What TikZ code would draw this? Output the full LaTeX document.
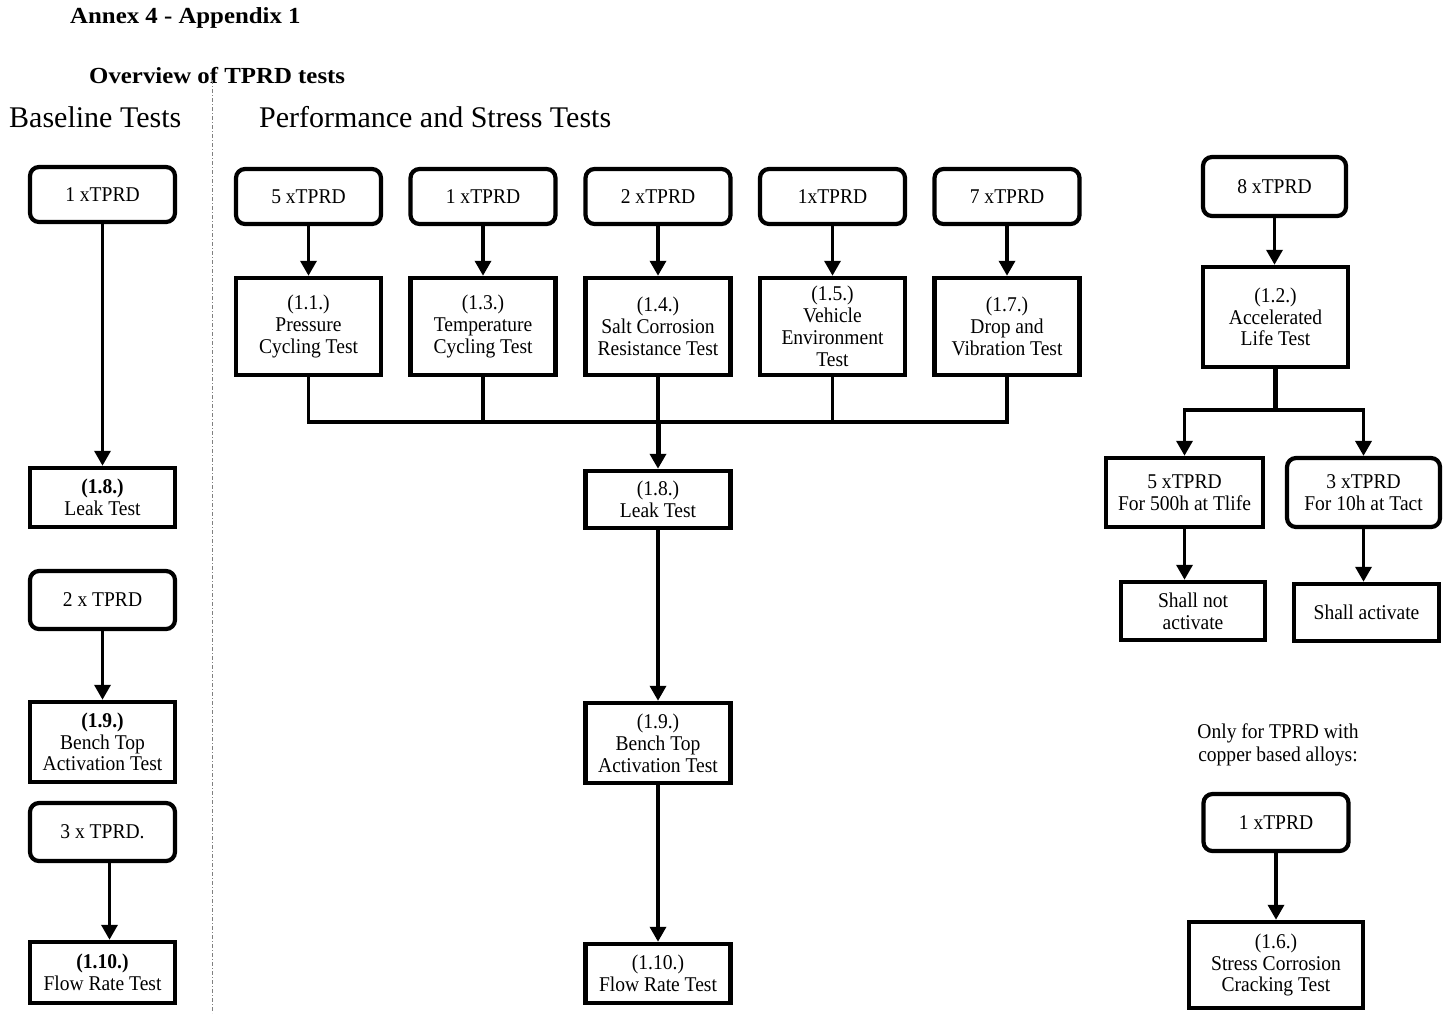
\documentclass[tikz,border=0pt]{standalone}
\usepackage{fontspec}
\setmainfont{Liberation Serif}
\newfontfamily\titlefont[FakeStretch=1.08]{Liberation Serif}
\newfontfamily\boxfont[FakeStretch=0.93]{Liberation Serif}
\usetikzlibrary{arrows.meta}
\tikzset{
	tprdbox/.style={draw, line width=4.2pt, rounded corners=9pt, minimum width=145pt, minimum height=#1, inner sep=0pt, align=center, font=\boxfont\fontsize{21}{21.8}\selectfont},
	tprdbox/.default=55pt,
	testbox/.style={draw, line width=4.5pt, minimum width=145pt, minimum height=#1, inner sep=0pt, align=center, font=\boxfont\fontsize{21}{21.8}\selectfont},
	testbox/.default=59pt,
	arr/.style={-{Triangle[length=15pt,width=16pt]}, line width=3.5pt},
	feed/.style={line width=3.5pt},
	heading/.style={anchor=base west, inner sep=0pt, font=\fontsize{30}{34}\selectfont},
	title/.style={anchor=base west, inner sep=0pt, font=\titlefont\bfseries\fontsize{23}{27}\selectfont}
}
\begin{document}
\begin{tikzpicture}[x=1pt, y=-1pt]
	\useasboundingbox (0,0) rectangle (1447,1013);
	
	\node[title] (annex) at (70,23) {Annex 4 - Appendix 1};
	\node[title] (overview) at (89,83) {Overview of TPRD tests};
	\node[heading] (baseline) at (9,127) {Baseline Tests};
	\node[heading] (perf) at (259,127) {Performance and Stress Tests};
	\draw[gray, line width=0.7pt, dash pattern=on 4pt off 2pt on 1pt off 2pt] (212,80) -- (212,1013);
	
	% baseline tests
	\node[tprdbox] (b1) at (102.5,194.5) {1 xTPRD};
	\node[testbox] (bleak) at (102.5,497.5) {\textbf{(1.8.)}\\Leak Test};
	\node[tprdbox=58pt] (b2) at (102.5,600) {2 x TPRD};
	\node[testbox=80pt] (bbench) at (102.5,742) {\textbf{(1.9.)}\\Bench Top\\Activation Test};
	\node[tprdbox=58pt] (b3) at (102.5,832) {3 x TPRD.};
	\node[testbox=61pt] (bflow) at (102.5,972.5) {\textbf{(1.10.)}\\Flow Rate Test};
	\draw[arr] (b1) -- (bleak);
	\draw[arr] (b2) -- (bbench);
	\draw[arr] ([xshift=7pt]b3.south) -- ([xshift=7pt]bflow.north);
	
	% performance and stress tests
	\node[tprdbox] (p1) at (308.5,196.5) {5 xTPRD};
	\node[tprdbox] (p3) at (483,196.5) {1 xTPRD};
	\node[tprdbox] (p4) at (658,196.5) {2 xTPRD};
	\node[tprdbox] (p5) at (832.5,196.5) {1xTPRD};
	\node[tprdbox] (p7) at (1007,196.5) {7 xTPRD};
	\node[testbox=97pt] (t11) at (308.5,326.5) {(1.1.)\\Pressure\\Cycling Test};
	\node[testbox=97pt] (t13) at (483,326.5) {(1.3.)\\Temperature\\Cycling Test};
	\node[testbox=97pt] (t14) at (658,326.5) {(1.4.)\\Salt Corrosion\\Resistance Test};
	\node[testbox=97pt] (t15) at (832.5,326.5) {(1.5.)\\Vehicle\\Environment\\Test};
	\node[testbox=97pt] (t17) at (1007,326.5) {(1.7.)\\Drop and\\Vibration Test};
	\draw[arr] (p1) -- (t11);
	\draw[arr] (p3) -- (t13);
	\draw[arr] (p4) -- (t14);
	\draw[arr] (p5) -- (t15);
	\draw[arr] (p7) -- (t17);
	\coordinate (bus) at (658,422);
	\draw[feed] (t11.south) |- (bus) -| (t17.south);
	\draw[feed] (t13.south) -- (t13.south |- bus);
	\draw[feed] (t14.south) -- (bus);
	\draw[feed] (t15.south) -- (t15.south |- bus);
	\node[testbox=57pt] (pleak) at (658,499.5) {(1.8.)\\Leak Test};
	\node[testbox=80pt] (pbench) at (658,743) {(1.9.)\\Bench Top\\Activation Test};
	\node[testbox=59pt] (pflow) at (658,973.5) {(1.10.)\\Flow Rate Test};
	\draw[arr, line width=5pt] (bus) -- (pleak);
	\draw[arr] (pleak) -- (pbench);
	\draw[arr] (pbench) -- (pflow);
	
	% accelerated life test
	\node[tprdbox=59pt, minimum width=143pt] (r8) at (1274.5,186.5) {8 xTPRD};
	\node[testbox=100pt] (t12) at (1275.5,317) {(1.2.)\\Accelerated\\Life Test};
	\coordinate (split) at (1275.5,410);
	\node[testbox=69pt, minimum width=157pt] (life) at (1184.5,492.5) {5 xTPRD\\For 500h at Tlife};
	\node[tprdbox=69pt, minimum width=153pt] (act) at (1363.5,492.5) {3 xTPRD\\For 10h at Tact};
	\node[testbox=58pt, minimum width=144pt] (nact) at (1193,611) {Shall not\\activate};
	\node[testbox=57pt] (sact) at (1366.5,612.5) {Shall activate};
	\draw[arr] (r8.south) -- (r8.south |- t12.north);
	\draw[line width=5pt] (t12.south) -- (split);
	\draw[arr] (split) -| (life.north);
	\draw[arr] (split) -| (act.north);
	\draw[arr] (life.south) -- (life.south |- nact.north);
	\draw[arr] (act.south) -- (act.south |- sact.north);
	
	% stress corrosion cracking
	\node[align=center, inner sep=0pt, font=\boxfont\fontsize{21}{23}\selectfont] (note) at (1278,745) {Only for TPRD with\\copper based alloys:};
	\node[tprdbox=57pt] (r1) at (1276,822.5) {1 xTPRD};
	\node[testbox=86pt, minimum width=174pt] (t16) at (1276,965) {(1.6.)\\Stress Corrosion\\Cracking Test};
	\draw[arr] (r1) -- (t16);
\end{tikzpicture}
\end{document}
